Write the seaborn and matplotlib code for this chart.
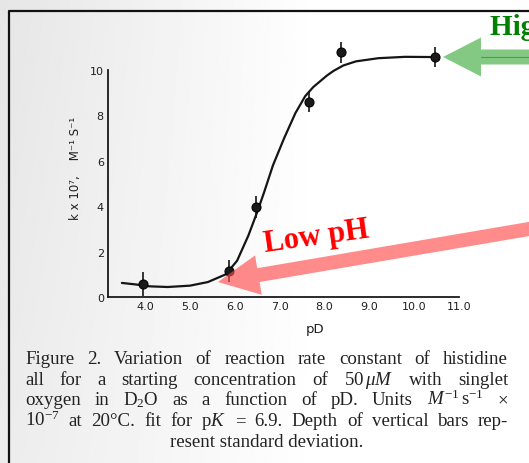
import numpy as np
import pandas as pd
import matplotlib
matplotlib.use("Agg")
import matplotlib.pyplot as plt
import seaborn as sns
from matplotlib.patches import FancyArrow
from matplotlib.lines import Line2D

# ---------------- data ----------------
pd_points = [3.95, 5.87, 6.47, 7.66, 8.37, 10.47]
k_points = [0.57, 1.15, 3.96, 8.59, 10.79, 10.57]
k_sd = [0.52, 0.50, 0.48, 0.45, 0.46, 0.44]

curve_pd = [3.48, 3.8, 4.1, 4.5, 5.0, 5.4, 5.8, 6.05, 6.3, 6.5, 6.65, 6.85,
            7.1, 7.35, 7.57, 7.75, 7.9, 8.05, 8.2, 8.42, 8.7, 9.2, 9.8, 10.45]
curve_k = [0.62, 0.55, 0.47, 0.44, 0.50, 0.66, 1.0, 1.6, 2.7, 3.75, 4.6, 5.8,
           7.0, 8.1, 8.85, 9.25, 9.5, 9.75, 9.96, 10.2, 10.38, 10.52, 10.58, 10.57]

x_ticks = [4, 5, 6, 7, 8, 9, 10, 11]
x_tick_labels = ["4.0", "5.0", "6.0", "7.0", "8.0", "9.0", "10.0", "11.0"]
y_ticks = [0, 2, 4, 6, 8, 10]
y_tick_labels = ["0", "2", "4", "6", "8", "10"]

x_label = "pD"
y_label = "k x 10\u2077,    M\u207b\u00b9 S\u207b\u00b9"

caption_lines = [
    "Figure 2. Variation of reaction rate constant of histidine".split(),
    ["all", "for", "a", "starting", "concentration", "of", r"50$\,\mu M$",
     "with", "singlet"],
    ["oxygen", "in", r"D$_2$O", "as", "a", "function", "of", "pD.", "Units",
     r"$M^{-1}\,\mathrm{s}^{-1}$", "\u00d7"],
    [r"10$^{-7}$", "at", "20\u00b0C.", "fit", "for", r"p$K$", "=", "6.9.",
     "Depth", "of", "vertical", "bars", "rep-"],
]
caption_last = "resent standard deviation."

high_text = "High pH"
low_text = "Low pH"

# ---------------- style ----------------
sns.set_style("white")
plt.rcParams["font.family"] = ["DejaVu Sans"]
plt.rcParams["mathtext.fontset"] = "custom"
plt.rcParams["mathtext.rm"] = "Liberation Serif"
plt.rcParams["mathtext.it"] = "Liberation Serif:italic"
plt.rcParams["mathtext.bf"] = "Liberation Serif:bold"

W, H = 529, 464
fig = plt.figure(figsize=(W / 100, H / 100), dpi=100)
fig.patch.set_facecolor("white")

# background gradient
bg = fig.add_axes([0, 0, 1, 1], zorder=-10)
xx = np.linspace(0, W, 300)
yy = np.linspace(0, H, 200)
X, Y = np.meshgrid(xx, yy)
val = 1 - 0.10 * np.clip(1 - X / 320, 0, 1) * (0.75 + 0.25 * np.clip(1 - Y / H, 0, 1))
bg.imshow(val, cmap="gray", vmin=0, vmax=1, extent=[0, W, H, 0], aspect="auto",
          interpolation="bilinear")
bg.set_xlim(0, W)
bg.set_ylim(H, 0)
bg.axis("off")

# main axes
left, right, top, bottom = 108, 459, 71, 298
ax = fig.add_axes([left / W, 1 - bottom / H, (right - left) / W, (bottom - top) / H], zorder=1)
ax.set_facecolor("none")

curve_df = pd.DataFrame({"pD": curve_pd, "k": curve_k})
pts_df = pd.DataFrame({"pD": pd_points, "k": k_points, "sd": k_sd})

sns.lineplot(data=curve_df, x="pD", y="k", ax=ax, color="#151515", linewidth=1.6,
             sort=False, clip_on=False)
ax.errorbar(pts_df["pD"], pts_df["k"], yerr=pts_df["sd"], fmt="none",
            ecolor="#151515", elinewidth=1.2, capsize=0, clip_on=False, zorder=3)
sns.scatterplot(data=pts_df, x="pD", y="k", ax=ax, s=42, color="#1a1a1a",
                edgecolor="#000000", linewidth=0.8, clip_on=False, zorder=4)

ax.set_xlim(3.17, 11.0)
ax.set_ylim(0, 10)
ax.set_xticks(x_ticks)
ax.set_xticklabels(x_tick_labels)
ax.set_yticks(y_ticks)
ax.set_yticklabels(y_tick_labels)
ax.tick_params(axis="both", direction="in", length=7, width=1.2, colors="#1a1a1a",
               labelsize=8, labelcolor="#1f1f1f")
ax.tick_params(axis="x", pad=3)
ax.tick_params(axis="y", pad=3)
for s in ["top", "right"]:
    ax.spines[s].set_visible(False)
for s in ["left", "bottom"]:
    ax.spines[s].set_linewidth(1.3)
    ax.spines[s].set_color("#1a1a1a")
ax.set_xlabel("")
ax.set_ylabel("")

# overlay axes in pixel coordinates
ov = fig.add_axes([0, 0, 1, 1], zorder=5)
ov.set_facecolor("none")
ov.set_xlim(0, W)
ov.set_ylim(H, 0)
ov.axis("off")

ov.text(315, 330, x_label, fontsize=9.5, color="#1f1f1f", ha="center", va="center")
ov.text(76, 168, y_label, fontsize=8.5, color="#1f1f1f", ha="center", va="center",
        rotation=90)

# frame
ov.add_line(Line2D([9, 9, W + 5], [H + 5, 12, 12], color="#111111", linewidth=1.6))

# arrows
green = FancyArrow(570, 58, 443 - 570, 0, width=15, head_width=39, head_length=38,
                   length_includes_head=True, facecolor=(0.35, 0.72, 0.35, 0.75),
                   edgecolor="none")
ov.add_patch(green)
ov.add_line(Line2D([481, W], [58, 58], color=(0.1, 0.55, 0.1, 0.6), linewidth=0.8))
ov.text(490, 35, high_text, fontsize=21, fontweight="bold", family="Liberation Serif",
        color="#008000", ha="left", va="baseline")

tip = np.array([218.0, 283.0])
tail = np.array([560.0, 224.7])
d = tip - tail
red = FancyArrow(tail[0], tail[1], d[0], d[1], width=14, head_width=40, head_length=41,
                 length_includes_head=True, facecolor=(1.0, 0.3, 0.3, 0.65),
                 edgecolor="none")
ov.add_patch(red)
ov.text(265, 252, low_text, fontsize=22, fontweight="bold", family="Liberation Serif",
        color="#ff0000", ha="left", va="baseline", rotation=8, rotation_mode="anchor")

# caption (justified)
cap_fs = 13.6
cap_kw = dict(fontsize=cap_fs, family="Liberation Serif", color="#222222",
              va="baseline", ha="left")
x0, x1 = 25, 508
baselines = [364, 385, 405.5, 426.5, 447.5]
renderer = fig.canvas.get_renderer()
for line, yb in zip(caption_lines, baselines):
    texts = [ov.text(0, yb, tok, **cap_kw) for tok in line]
    widths = [t.get_window_extent(renderer).width for t in texts]
    gap = (x1 - x0 - sum(widths)) / (len(texts) - 1)
    x = x0
    for t, w in zip(texts, widths):
        t.set_x(x)
        x += w + gap
ov.text((x0 + x1) / 2, baselines[-1], caption_last, **{**cap_kw, "ha": "center"})

fig.savefig("out.png", dpi=100)
